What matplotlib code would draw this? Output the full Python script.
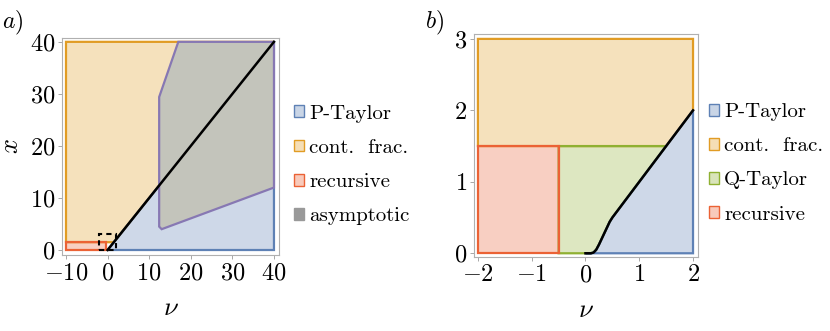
import matplotlib
matplotlib.use("Agg")
import matplotlib.pyplot as plt
from matplotlib.patches import Polygon, Patch, Rectangle

plt.rcParams['font.family'] = 'cmr10'
plt.rcParams['mathtext.fontset'] = 'cm'
plt.rcParams['axes.formatter.use_mathtext'] = True

BLUE = '#5E81B5'
ORANGE = '#E19C24'
GREEN = '#8FB032'
RED = '#EB6235'
PURPLE = '#8778B3'
GRAY = '#c3c4bb'
ALPHA = 0.3

# panel a regions (nu, x)
a_taylor = [(0, 0), (40, 0), (40, 40)]
a_contfrac = [(-10, 1.5), (-10, 40), (40, 40), (1.5, 1.5)]
a_recursive = [(-10, 0), (-0.5, 0), (-0.5, 1.5), (-10, 1.5)]
a_asymptotic = [(12.4, 29.4), (17, 40), (40, 40), (40, 12), (13, 4), (12.4, 4.5)]
a_line_nu = [0, 40]
a_line_x = [0, 40]
a_box = (-2, 0, 4, 3)  # zoom region shown in panel b

# panel b regions
b_curve_nu = [0, 0.1, 0.15, 0.2, 0.25, 0.3, 0.35, 0.4, 0.45, 0.5, 2.0]
b_curve_x = [0, 0, 0.01, 0.05, 0.12, 0.2, 0.28, 0.36, 0.44, 0.5, 2.0]
b_contfrac = [(-2, 1.5), (-2, 3), (2, 3), (2, 2), (1.5, 1.5)]
b_recursive = [(-2, 0), (-0.5, 0), (-0.5, 1.5), (-2, 1.5)]

labels_a = ['P-Taylor', 'cont.  frac.', 'recursive', 'asymptotic']
labels_b = ['P-Taylor', 'cont.  frac.', 'Q-Taylor', 'recursive']

fig = plt.figure(figsize=(8.3, 3.31), dpi=100)
ax1 = fig.add_axes([0.0747, 0.2296, 0.2614, 0.655])
ax2 = fig.add_axes([0.571, 0.2236, 0.270, 0.674])


def region(ax, pts, color, alpha=ALPHA, edge=None):
    ax.add_patch(Polygon(pts, closed=True, facecolor=color, alpha=alpha, lw=0))
    ax.add_patch(Polygon(pts, closed=True, facecolor='none',
                         edgecolor=edge or color, lw=1.6))


def style(ax):
    for s in ax.spines.values():
        s.set_color('#b0b0b0')
        s.set_linewidth(0.8)
    ax.tick_params(direction='out', length=3, width=0.6, color='#999999',
                   labelsize=17.5, top=False, right=False, pad=2)


# panel a
region(ax1, a_contfrac, ORANGE)
region(ax1, a_taylor, BLUE)
region(ax1, a_recursive, RED)
region(ax1, a_asymptotic, GRAY, alpha=1, edge=PURPLE)
ax1.plot(a_line_nu, a_line_x, color='black', lw=1.8)
ax1.add_patch(Rectangle(a_box[:2], a_box[2], a_box[3], fill=False,
                        edgecolor='black', ls=(0, (2.5, 2)), lw=1.5))
ax1.set_xlim(-10.96, 41.2)
ax1.set_ylim(-0.96, 40.7)
ax1.set_xticks([-10, 0, 10, 20, 30, 40])
ax1.set_yticks([0, 10, 20, 30, 40])
style(ax1)
ax1.set_xlabel(r'$\nu$', fontsize=19, labelpad=9)
ax1.set_ylabel(r'$x$', fontsize=19)
ax1.yaxis.set_label_coords(-0.18, 0.5)
fig.text(0.003, 0.915, r'$a)$', fontsize=17)

h_a = [Patch(facecolor=BLUE + '55', edgecolor=BLUE),
       Patch(facecolor=ORANGE + '55', edgecolor=ORANGE),
       Patch(facecolor=RED + '55', edgecolor=RED),
       Patch(facecolor='#999999', edgecolor='#999999')]
ax1.legend(h_a, labels_a, loc='center left', bbox_to_anchor=(1.03, 0.415),
           frameon=False, fontsize=15, handlelength=0.5, handleheight=0.5,
           handletextpad=0.25, labelspacing=0.78, borderaxespad=0)

# panel b
b_curve = list(zip(b_curve_nu, b_curve_x))
b_taylor = b_curve + [(2, 0)]
b_qtaylor = [(-0.5, 0)] + [p for p in b_curve if p[1] <= 0.5] + [(1.5, 1.5), (-0.5, 1.5)]
region(ax2, b_contfrac, ORANGE)
region(ax2, b_qtaylor, GREEN)
region(ax2, b_taylor, BLUE)
region(ax2, b_recursive, RED)
ax2.plot(b_curve_nu, b_curve_x, color='black', lw=1.8)
ax2.set_xlim(-2.074, 2.093)
ax2.set_ylim(-0.052, 3.07)
ax2.set_xticks([-2, -1, 0, 1, 2])
ax2.set_yticks([0, 1, 2, 3])
style(ax2)
ax2.set_xlabel(r'$\nu$', fontsize=19, labelpad=9)
fig.text(0.512, 0.915, r'$b)$', fontsize=17)

h_b = [Patch(facecolor=BLUE + '55', edgecolor=BLUE),
       Patch(facecolor=ORANGE + '55', edgecolor=ORANGE),
       Patch(facecolor=GREEN + '55', edgecolor=GREEN),
       Patch(facecolor=RED + '55', edgecolor=RED)]
ax2.legend(h_b, labels_b, loc='center left', bbox_to_anchor=(1.01, 0.42),
           frameon=False, fontsize=15, handlelength=0.5, handleheight=0.5,
           handletextpad=0.25, labelspacing=0.78, borderaxespad=0)

fig.savefig('out.png', dpi=100)
